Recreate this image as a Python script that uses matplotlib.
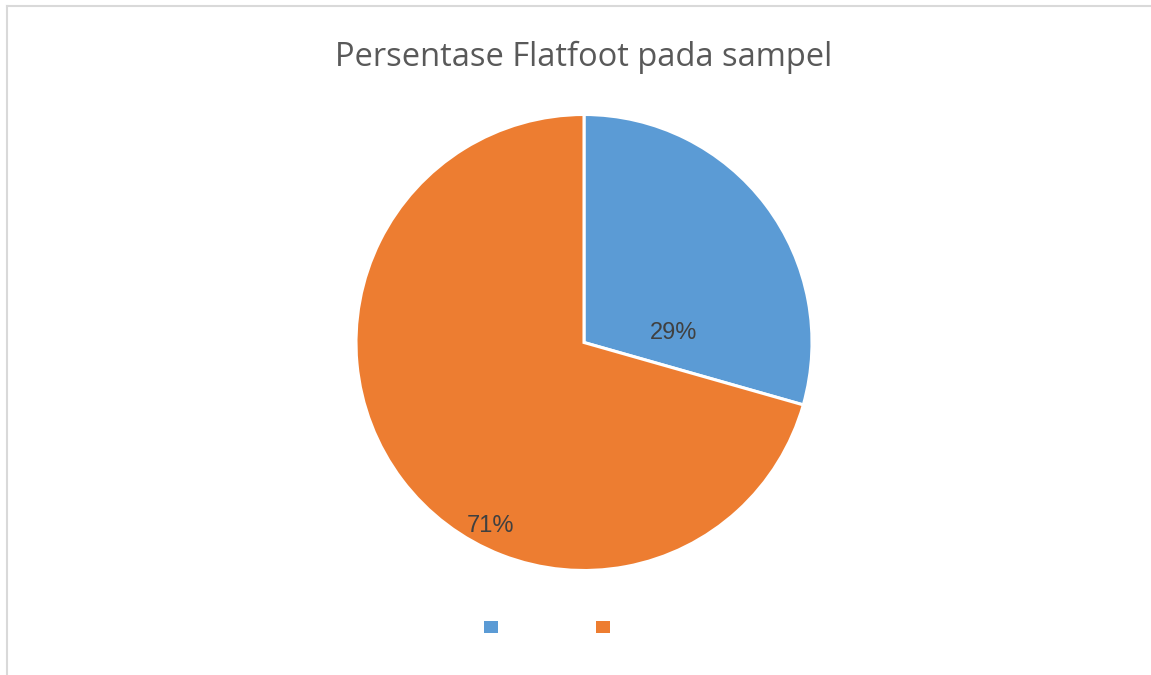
import matplotlib.pyplot as plt
from matplotlib.patches import Patch
from matplotlib.lines import Line2D

# data
categories = ["", ""]
values = [10, 24]
colors = ["#5B9BD5", "#ED7D31"]
# where Excel put the % labels (fraction of radius)
label_pos = [(0.392, 0.040), (-0.41, -0.804)]

fig = plt.figure(figsize=(11.51, 6.75), dpi=100)
fig.patch.set_facecolor("white")

# chart border (only left and top visible)
fig.add_artist(Line2D([6.5 / 1151, 6.5 / 1151], [0, 1 - 5.5 / 675], color="#d9d9d9", lw=1.5,
                      transform=fig.transFigure))
fig.add_artist(Line2D([6.5 / 1151, 1], [1 - 5.5 / 675, 1 - 5.5 / 675], color="#d9d9d9", lw=1.5,
                      transform=fig.transFigure))

cx, cy, r = 584, 342.5, 228
ax = fig.add_axes([(cx - r) / 1151, (675 - cy - r) / 675, 2 * r / 1151, 2 * r / 675])
wedges, texts, autotexts = ax.pie(values, colors=colors, startangle=90, counterclock=False,
                                  autopct="%1.0f%%", radius=1,
                                  wedgeprops=dict(edgecolor="white", linewidth=2.2, clip_on=False),
                                  textprops=dict(color="#404040", fontsize=17,
                                                 family="Liberation Sans"))
for t, p in zip(autotexts, label_pos):
    t.set_position(p)
ax.set_xlim(-1, 1)
ax.set_ylim(-1, 1)
ax.set_aspect("equal")
ax.axis("off")

fig.text(cx / 1151, 1 - 57 / 675, "Persentase Flatfoot pada sampel", ha="center", va="center",
         fontsize=23.5, color="#595959", family="Open Sans")

handles = [Patch(facecolor=c) for c in colors]
fig.legend(handles, categories, loc="center", ncol=2, frameon=False, fontsize=10,
           handlelength=1, handleheight=1, handletextpad=0, columnspacing=7.1,
           bbox_to_anchor=(547 / 1151, 1 - 628 / 675))

fig.savefig("out.png", dpi=100)
